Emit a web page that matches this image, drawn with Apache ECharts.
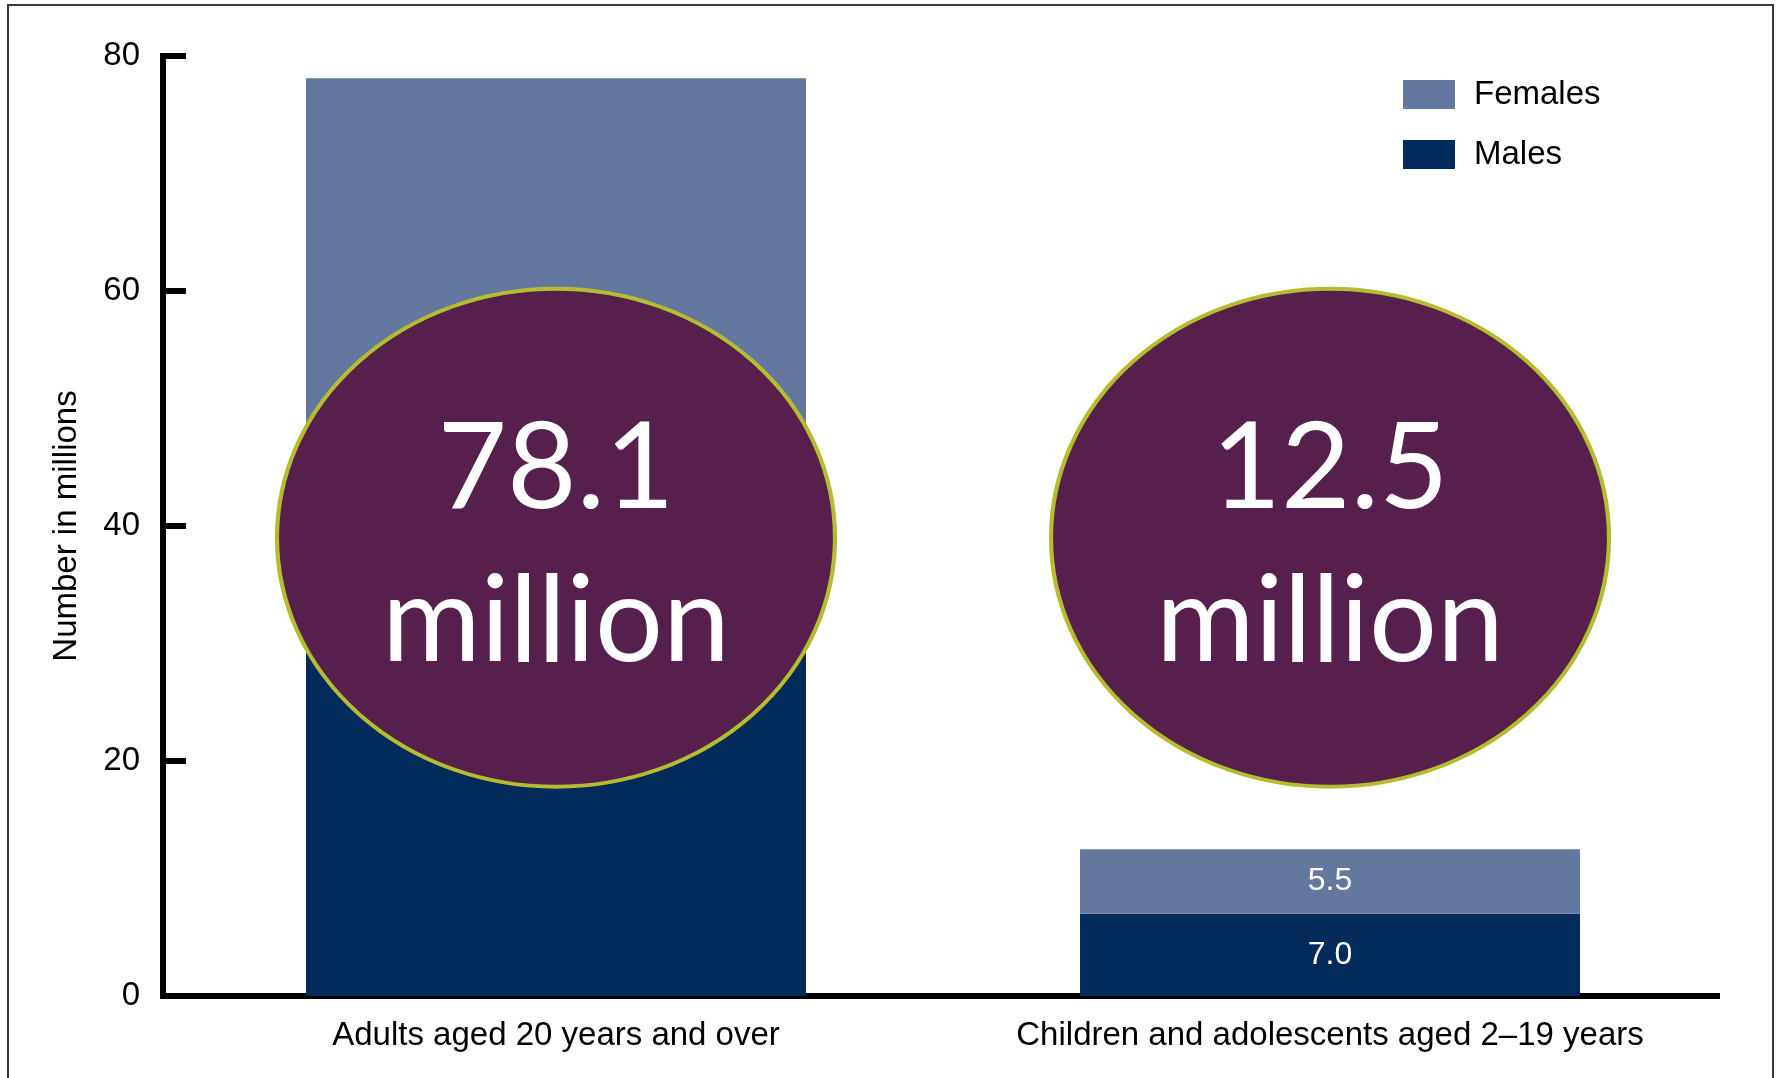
<!DOCTYPE html>
<html>
<head>
<meta charset="utf-8">
<script src="https://cdn.jsdelivr.net/npm/echarts@6/dist/echarts.min.js"></script>
<style>
html,body{margin:0;padding:0;background:#fff;}
#chart{width:1779px;height:1078px;}
</style>
</head>
<body>
<div id="chart"></div>
<script>
// Data
var categories = ['Adults aged 20 years and over', 'Children and adolescents aged 2\u201319 years'];
var males = [37.1, 7.0];
var females = [41.0, 5.5];
var totals = [78.1, 12.5];
var totalLabels = ['78.1\nmillion', '12.5\nmillion'];
var yTicks = [0, 20, 40, 60, 80];

var FONT = '"Liberation Sans", Arial, sans-serif';
var chart = echarts.init(document.getElementById('chart'));

var bubbleData = categories.map(function (c, i) {
  return { value: [c, 39], label: { formatter: totalLabels[i] } };
});

chart.setOption({
  backgroundColor: '#ffffff',
  animation: false,
  graphic: [{
    type: 'rect', z: 100, silent: true,
    shape: { x: 8, y: 5, width: 1765, height: 1100 },
    style: { fill: 'none', stroke: '#3a3a3a', lineWidth: 2 }
  }],
  legend: {
    orient: 'vertical',
    left: 1398, top: 73,
    itemWidth: 52, itemHeight: 29, itemGap: 27,
    data: ['Females', 'Males'],
    textStyle: { fontFamily: FONT, fontSize: 33, color: '#000', padding: [0, 0, 0, 14] },
    icon: 'rect'
  },
  grid: { left: 169, right: 62, top: 56, bottom: 82, containLabel: false },
  xAxis: {
    type: 'category',
    data: categories,
    axisLine: { lineStyle: { color: '#000', width: 6, cap: 'square' } },
    axisTick: { show: false },
    axisLabel: { interval: 0, fontFamily: FONT, fontSize: 33, color: '#000', margin: 23 }
  },
  yAxis: {
    type: 'value',
    offset: 6,
    min: yTicks[0], max: yTicks[yTicks.length - 1], interval: 20,
    name: 'Number in millions',
    nameLocation: 'middle',
    nameGap: 80,
    nameTextStyle: { fontFamily: FONT, fontSize: 33, color: '#000' },
    axisLine: { show: true, lineStyle: { color: '#000', width: 6, cap: 'square' } },
    axisTick: { show: true, inside: true, length: 23, lineStyle: { color: '#000', width: 6 } },
    splitLine: { show: false },
    axisLabel: { fontFamily: FONT, fontSize: 33, color: '#000', margin: 23 }
  },
  series: [
    {
      name: 'Males', type: 'bar', stack: 'total', barWidth: 500,
      data: males,
      itemStyle: { color: '#022a5b' },
      label: { show: true, position: 'inside', color: '#fff', fontFamily: FONT, fontSize: 32,
        formatter: function (p) { return p.value.toFixed(1); } }
    },
    {
      name: 'Females', type: 'bar', stack: 'total', barWidth: 500,
      data: females,
      itemStyle: { color: '#64779f' },
      label: { show: true, position: 'inside', color: '#fff', fontFamily: FONT, fontSize: 32,
        formatter: function (p) { return p.value.toFixed(1); } }
    },
    {
      name: 'Total', type: 'scatter', z: 10,
      symbol: 'circle', symbolSize: [558, 498],
      data: bubbleData,
      itemStyle: { color: '#561f4c', borderColor: '#b4bc30', borderWidth: 4, opacity: 1 },
      label: {
        show: true, position: 'inside', color: '#fff',
        fontFamily: 'Lato, "Open Sans", sans-serif', fontSize: 120, lineHeight: 153,
        offset: [0, 8]
      },
      emphasis: { disabled: true }
    }
  ]
});
</script>
</body>
</html>
